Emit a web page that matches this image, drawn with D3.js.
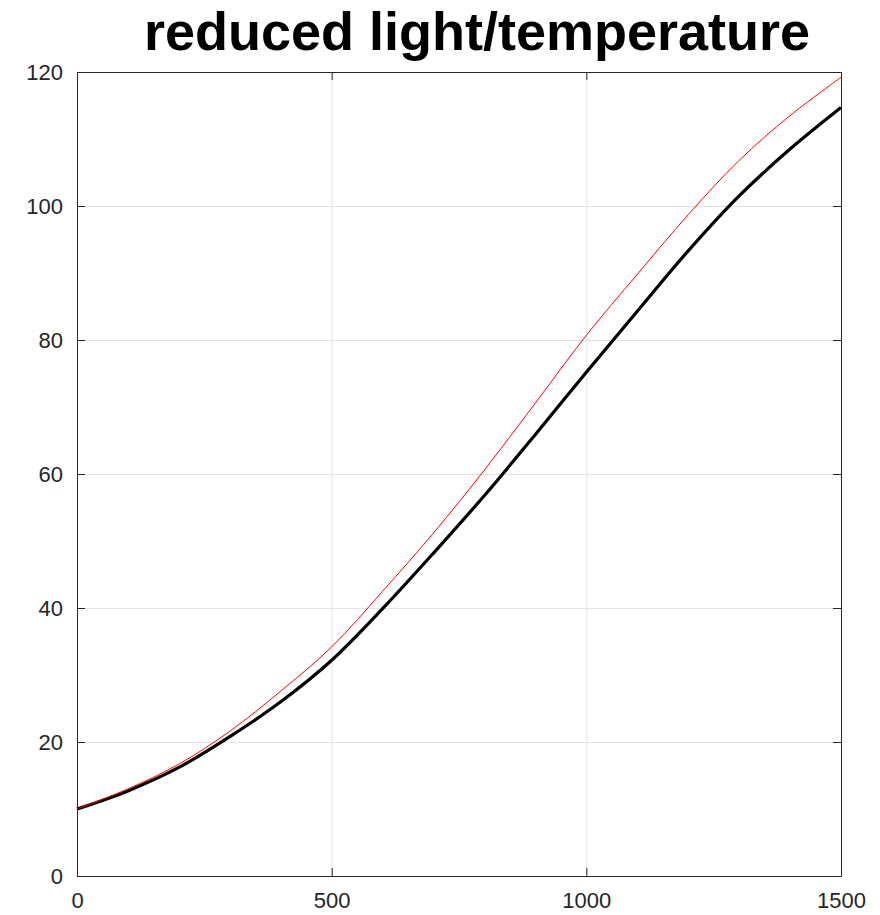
<!DOCTYPE html>
<html>
<head>
<meta charset="utf-8">
<script src="https://cdn.jsdelivr.net/npm/d3@7"></script>
<style>
  html, body { margin: 0; padding: 0; background: #fff; }
  svg { display: block; font-family: "Liberation Sans", Arial, Helvetica, sans-serif; }
</style>
</head>
<body>
<div id="chart"></div>
<script>
// Valores (x a cada 100 unidades)
const xValues = [0, 100, 200, 300, 400, 500, 600, 700, 800, 900, 1000, 1100, 1200, 1300, 1400, 1500];
const blackSeries = [10.0, 12.7, 16.2, 20.8, 26.0, 32.2, 39.9, 48.2, 56.8, 65.9, 75.2, 84.3, 93.3, 101.5, 108.5, 114.7];
const redSeries = [10.0, 13.0, 16.7, 21.6, 27.6, 34.2, 42.5, 51.2, 60.6, 70.6, 80.7, 89.8, 98.7, 106.8, 113.5, 119.2];
const xTicks = [0, 500, 1000, 1500];
const yTicks = [0, 20, 40, 60, 80, 100, 120];
const title = 'reduced light/temperature';

(function () {
  'use strict';
  const width = 880, height = 915;
  const margin = { top: 72, right: 39, bottom: 39, left: 77 };
  const innerW = width - margin.left - margin.right;
  const innerH = height - margin.top - margin.bottom;
  const axColor = '#262626';
  const gridColor = '#e3e3e3';

  const svg = d3.select('#chart').append('svg')
    .attr('width', width)
    .attr('height', height);

  const g = svg.append('g').attr('transform', `translate(${margin.left},${margin.top})`);

  const x = d3.scaleLinear().domain([0, 1500]).range([0, innerW]);
  const y = d3.scaleLinear().domain([0, 120]).range([innerH, 0]);

  // Grid
  g.append('g')
    .call(d3.axisLeft(y).tickValues(yTicks).tickSize(-innerW).tickFormat(''))
    .call(sel => {
      sel.select('.domain').remove();
      sel.selectAll('line').attr('stroke', gridColor).attr('stroke-width', 1);
    });
  g.append('g')
    .attr('transform', `translate(0,${innerH})`)
    .call(d3.axisBottom(x).tickValues(xTicks).tickSize(-innerH).tickFormat(''))
    .call(sel => {
      sel.select('.domain').remove();
      sel.selectAll('line').attr('stroke', gridColor).attr('stroke-width', 1);
    });

  // Linhas
  const pts = s => xValues.map((v, i) => [v, s[i]]);
  const line = d3.line()
    .x(d => x(d[0]))
    .y(d => y(d[1]))
    .curve(d3.curveCatmullRom.alpha(0.5));

  g.append('path')
    .attr('d', line(pts(blackSeries)))
    .attr('fill', 'none')
    .attr('stroke', '#000')
    .attr('stroke-width', 3.2);

  g.append('path')
    .attr('d', line(pts(redSeries)))
    .attr('fill', 'none')
    .attr('stroke', '#ff0000')
    .attr('stroke-width', 1);

  // Eixos (ticks para dentro, estilo MATLAB)
  const styleAxis = sel => {
    sel.selectAll('path,line').attr('stroke', axColor).attr('stroke-width', 1);
    sel.selectAll('text').attr('fill', axColor).style('font-size', '22px');
  };
  const fmt = d3.format('d');
  g.append('g')
    .attr('transform', `translate(0,${innerH})`)
    .call(d3.axisBottom(x).tickValues(xTicks).tickFormat(fmt).tickSizeInner(-8).tickSizeOuter(0).tickPadding(16))
    .call(styleAxis);
  g.append('g')
    .call(d3.axisLeft(y).tickValues(yTicks).tickFormat(fmt).tickSizeInner(-8).tickSizeOuter(0).tickPadding(14))
    .call(styleAxis);
  g.append('g')
    .call(d3.axisTop(x).tickValues(xTicks).tickSizeInner(-8).tickSizeOuter(0).tickFormat(''))
    .call(styleAxis);
  g.append('g')
    .attr('transform', `translate(${innerW},0)`)
    .call(d3.axisRight(y).tickValues(yTicks).tickSizeInner(-8).tickSizeOuter(0).tickFormat(''))
    .call(styleAxis);

  // Título
  svg.append('text')
    .attr('x', 477)
    .attr('y', 50)
    .attr('text-anchor', 'middle')
    .attr('fill', '#000')
    .style('font-size', '54px')
    .style('font-weight', 'bold')
    .text(title);
})();
</script>
</body>
</html>
